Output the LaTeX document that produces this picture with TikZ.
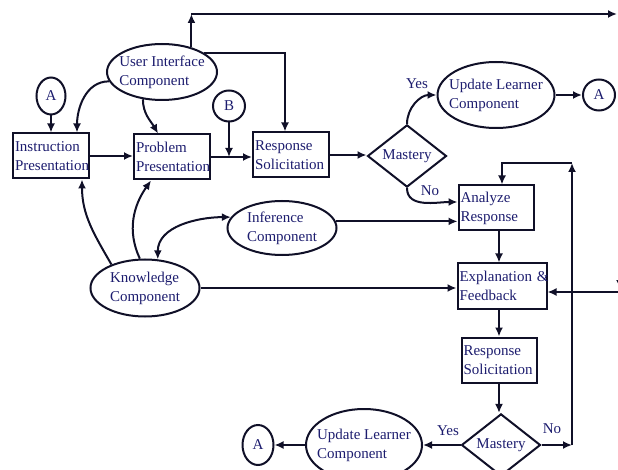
\documentclass[tikz,border=0pt]{standalone}
\usepackage{fontspec}
\setmainfont{Liberation Serif}
\usetikzlibrary{shapes.geometric,arrows.meta}
\definecolor{txtblue}{RGB}{28,28,110}
\definecolor{inkline}{RGB}{16,16,40}
\hyphenpenalty=10000

\begin{document}
\begin{tikzpicture}[
        x=1pt, y=-1pt,
        line width=2pt, draw=inkline,
        >={Latex[length=9pt,width=8pt]},
        every node/.style={text=txtblue, font=\fontsize{15}{19}\selectfont},
        box/.style={draw, rectangle, align=left, inner sep=2pt, text width=#1, minimum height=45pt},
        comp/.style={draw, ellipse, align=left, inner xsep=-18pt, inner ysep=-10pt},
        mastery/.style={draw, diamond, inner sep=0pt, minimum width=79pt, minimum height=53pt},
        conn/.style={draw, ellipse, inner sep=0pt}
    ]
        \useasboundingbox (0,0) rectangle (618,470);
        \clip (0,0) rectangle (618,470);

        % upper row
        \node[box=72pt] (instr) at (51,156) {Instruction\\Presentation};
        \node[box=72pt] (prob) at (172,157) {Problem\\Presentation};
        \node[box=72pt] (resp) at (291,155) {Response\\Solicitation};
        \node[mastery] (mast) at (407,156) {Mastery};
        \node[comp, minimum width=110pt, minimum height=56pt] (ui) at (162,72) {User Interface\\Component};
        \node[comp, minimum width=117pt, minimum height=66pt] (upd) at (496,95) {Update Learner\\Component};
        \node[conn, minimum width=29pt, minimum height=37pt] (a1) at (51,96) {A};
        \node[conn, minimum width=32pt, minimum height=31pt] (a2) at (599,95) {A};
        \node[conn, minimum width=32pt, minimum height=31pt] (b) at (229,106) {B};

        % middle
        \node[comp, minimum width=109pt, minimum height=54pt] (inf) at (282,228) {Inference\\Component};
        \node[comp, minimum width=109pt, minimum height=57pt] (kn) at (145,288) {Knowledge\\Component};
        \node[box=71pt] (ana) at (496,208) {Analyze\\Response};
        \node[box=85pt] (expl) at (502,286) {\mbox{Explanation \&}\\Feedback};

        % lower row
        \node[box=71pt] (resp2) at (499,360) {Response\\Solicitation};
        \node[mastery] (mast2) at (501,445) {Mastery};
        \node[comp, minimum width=116pt, minimum height=72pt] (upd2) at (364,445) {Update Learner\\Component};
        \node[conn, minimum width=31pt, minimum height=40pt] (a3) at (258,445) {A};

        \node (yes1) at (417,84) {Yes};
        \node (no1) at (430,191) {No};
        \node (yes2) at (448,431) {Yes};
        \node (no2) at (552,429) {No};

        \coordinate (topl) at (190,14);
        \coordinate (topr) at (617,14);
        \coordinate (rail) at (572,163);
        \coordinate (edge) at (620,292);

        \draw[->] (a1) -- (instr);
        \draw[->] (instr.east) -- (instr.east -| prob.west);
        \draw[->] (prob.east) -- (prob.east -| resp.west);
        \draw[->] (b) -- (b |- prob.east);
        \draw[->] (resp.east) -- (resp.east -| mast.west);
        \draw[->] (ui.190) to[out=180, in=90] ([xshift=26pt]instr.north);
        \draw[->] (ui.235) to[out=-90, in=120] ([xshift=-14pt]prob.north);
        \draw[->] (ui.40) -- (ui.40 |- topl);
        \draw[->] (ui.40 |- topl) -- (topr);
        \draw[->] (ui.24) -| ([xshift=-6pt]resp.north);
        \draw[->] (mast.north) to[out=90, in=180] (upd.west);
        \draw[->] (upd.east) -- (a2);
        \draw[->] (mast.south) to[out=-90, in=180] ([yshift=6pt]ana.west);
        \draw[->] (inf.7) -- (inf.7 -| ana.west);
        \draw[<->] (kn.66) to[out=90, in=180] (inf.168);
        \draw[->] (kn.145) to[out=120, in=-90] ([xshift=31pt]instr.south);
        \draw[->] (kn.100) to[out=115, in=-125] ([xshift=-21pt]prob.south);
        \draw[->] (kn.east) -- (kn.east -| expl.west);
        \draw[->] ([xshift=3pt]ana.south) -- ([xshift=3pt]ana.south |- expl.north);
        \draw[->] (resp2.north |- expl.south) -- (resp2.north);
        \draw[->] (resp2.south) -- (resp2.south |- mast2.north);
        \draw[->] (mast2.west) -- (upd2.east);
        \draw[->] (upd2.west) -- (a3);
        \draw[->] (mast2.east) -- (mast2.east -| rail);
        \draw[->] (mast2.east -| rail) -- (rail);
        \draw[->] (rail) -| ([xshift=6pt]ana.north);
        \draw[->] (edge) -- (edge -| expl.east);
        \draw[->] ([yshift=20pt]edge) -- ([yshift=3pt]edge);
    \end{tikzpicture}
\end{document}
